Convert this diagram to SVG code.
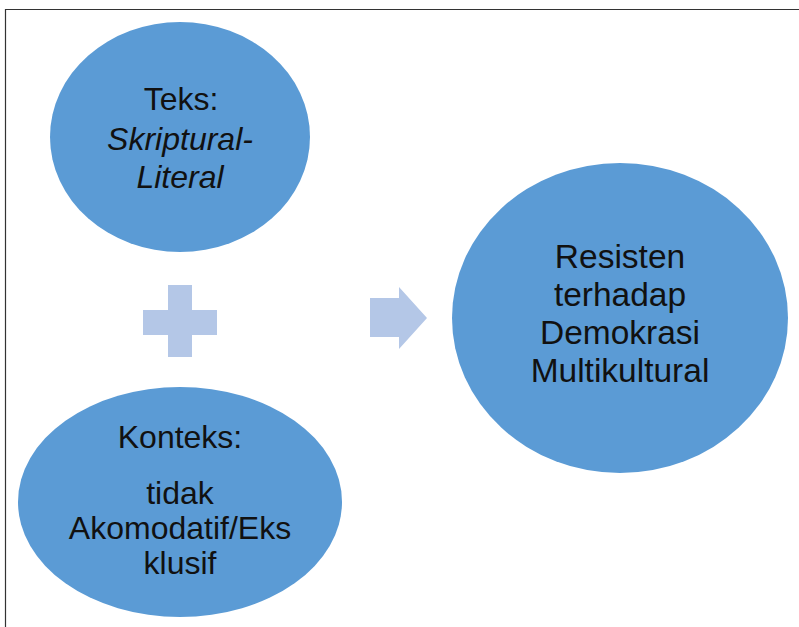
<svg xmlns="http://www.w3.org/2000/svg" width="799" height="627" viewBox="0 0 799 627">
<style>
.node{fill:#5b9bd5}
.sym{fill:#b4c7e7}
.t{font-family:"Liberation Sans",Arial,sans-serif;font-size:32px;fill:#111;text-anchor:middle}
.r{font-size:33.5px}
.i{font-style:italic}
.frame{stroke:#333;stroke-width:1.2;fill:none}
</style>
<rect x="0" y="0" width="799" height="627" fill="#fff"/>
<path class="frame" d="M5.5 627 V9.5 H799"/>
<g id="node-teks">
<ellipse class="node" cx="180" cy="137" rx="130" ry="115"/>
<text class="t" x="181" y="110">Teks:</text>
<text class="t i" x="180" y="150">Skriptural-</text>
<text class="t i" x="180" y="188">Literal</text>
</g>
<g id="node-konteks">
<ellipse class="node" cx="180" cy="502" rx="162" ry="115"/>
<text class="t" x="180" y="448">Konteks:</text>
<text class="t" x="180" y="504">tidak</text>
<text class="t" x="180" y="539">Akomodatif/Eks</text>
<text class="t" x="180" y="574">klusif</text>
</g>
<g id="node-resisten">
<ellipse class="node" cx="620" cy="318" rx="168" ry="155"/>
<text class="t r" x="620" y="268">Resisten</text>
<text class="t r" x="620" y="306">terhadap</text>
<text class="t r" x="620" y="344">Demokrasi</text>
<text class="t r" x="620" y="382">Multikultural</text>
</g>
<g id="connectors">
<path id="plus" class="sym" d="M168 285 H192 V310 H217 V335 H192 V357 H168 V335 H143 V310 H168 Z"/>
<path id="arrow" class="sym" d="M370 298 H399 V287 L427 318 L399 349 V337 H370 Z"/>
</g>
</svg>
